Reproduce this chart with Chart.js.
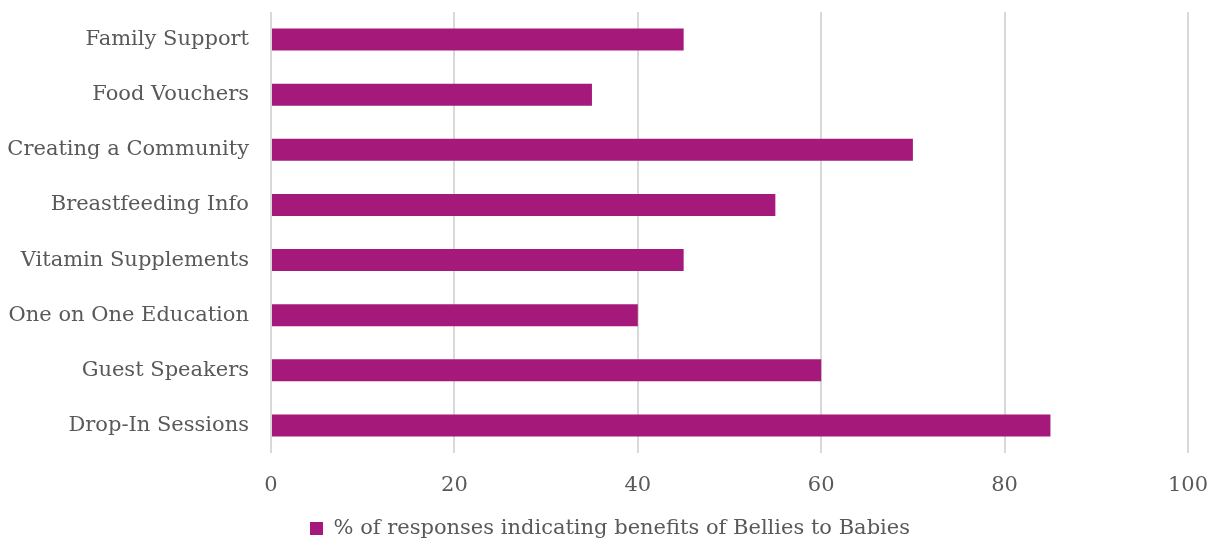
<!DOCTYPE html>
<html>
<head>
<meta charset="utf-8">
<script src="https://cdn.jsdelivr.net/npm/chart.js@4"></script>
<style>
  html, body { margin: 0; padding: 0; background: #fff; overflow: hidden; }
  #wrap { width: 1218px; height: 549px; }
</style>
</head>
<body>
<div id="wrap"><canvas id="chart" width="1218" height="549"></canvas></div>
<script>
// categories, top to bottom
const categories = [
  "Family Support",
  "Food Vouchers",
  "Creating a Community",
  "Breastfeeding Info",
  "Vitamin Supplements",
  "One on One Education",
  "Guest Speakers",
  "Drop-In Sessions"
];
// % of responses per category
const values = [45, 35, 70, 55, 45, 40, 60, 85];
const seriesName = "% of responses indicating benefits of Bellies to Babies";
const xTicks = [0, 20, 40, 60, 80, 100];

const barColor = "#a5197a";
const textColor = "#595959";
const gridColor = "#d9d9d9";
const fontFamily = "'DejaVu Serif', 'Liberation Serif', serif";

//nudge the legend a little to the right, like the original
const legendShift = {
  id: "legendShift",
  afterLayout(chart) {
    chart.legend.left += 16;
    chart.legend.right += 16;
  },
};

let myChart = new Chart(document.getElementById("chart"), {
  type: "bar",
  plugins: [legendShift],
  data: {
    labels: categories,
    datasets: [
      {
        label: seriesName,
        data: values,
        backgroundColor: barColor,
        categoryPercentage: 1,
        barPercentage: 0.4,
      },
    ],
  },
  options: {
    indexAxis: "y",
    responsive: false,
    animation: false,
    layout: { padding: { top: 12, right: 30, left: 0, bottom: 0 } },
    plugins: {
      tooltip: { enabled: false },
      legend: {
        position: "bottom",
        labels: {
          color: textColor,
          font: { family: fontFamily, size: 21 },
          boxWidth: 13,
          boxHeight: 13,
        },
      },
    },
    scales: {
      x: {
        min: 0,
        max: 100,
        afterBuildTicks: (scale) => {
          scale.ticks = xTicks.map((v) => ({ value: v }));
        },
        afterFit: (scale) => {
          scale.height = 55;
          scale.paddingLeft = 0;
          scale.paddingRight = 0;
        },
        grid: { color: gridColor, lineWidth: 2, drawTicks: false },
        border: { display: false },
        ticks: {
          color: textColor,
          font: { family: fontFamily, size: 21 },
          padding: 20,
          maxRotation: 0,
        },
      },
      y: {
        afterFit: (scale) => {
          scale.width = 271;
          scale.paddingTop = 0;
          scale.paddingBottom = 0;
        },
        grid: { display: false },
        border: { display: false },
        ticks: {
          color: textColor,
          font: { family: fontFamily, size: 21 },
          padding: 14,
        },
      },
    },
  },
});
</script>
</body>
</html>
